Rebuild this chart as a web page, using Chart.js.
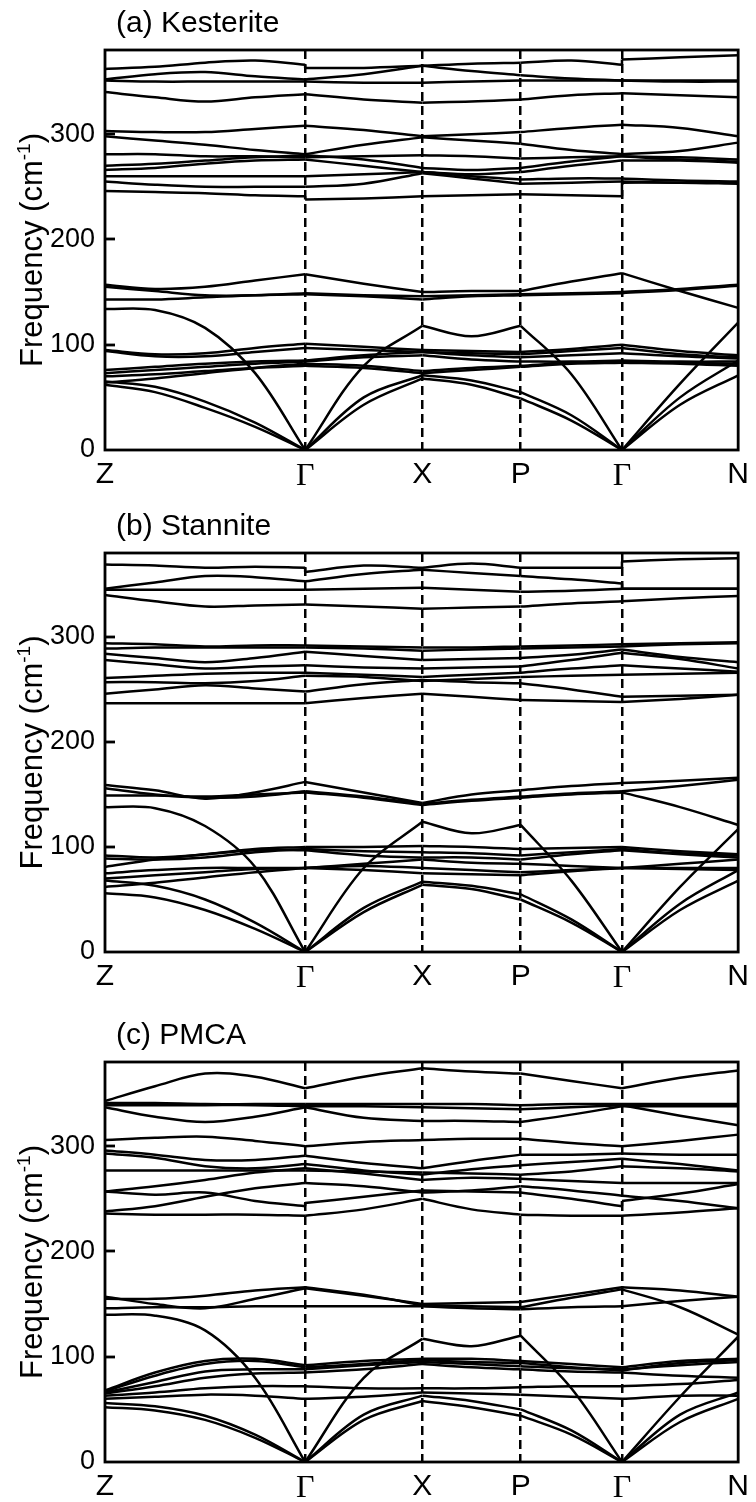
<!DOCTYPE html>
<html>
<head>
<meta charset="utf-8">
<script src="https://cdn.jsdelivr.net/npm/chart.js@4.4.1/dist/chart.umd.min.js"></script>
<style>
  html, body { margin: 0; padding: 0; background: #fff; }
  #wrap { position: relative; width: 756px; height: 1502px; overflow: hidden; }
  #wrap canvas { position: absolute; left: 0; }
</style>
</head>
<body>
<div id="wrap">
  <canvas id="cKes" width="756" height="500" style="top:0px"></canvas>
  <canvas id="cSta" width="756" height="500" style="top:503px"></canvas>
  <canvas id="cPmca" width="756" height="490" style="top:1012px"></canvas>
</div>
<script>
// High-symmetry path Z - Γ - X - P - Γ - N (cumulative path length, normalised)
const kLabels = ['Z', 'Γ', 'X', 'P', 'Γ', 'N'];
const kPathPos = [0, 0.3161, 0.5012, 0.6565, 0.8165, 1];
// fractional sample positions inside each path segment
const segSamples = [[0.25, 0.5, 0.75, 1], [0.5, 1], [0.5, 1], [0.5, 1], [0.5, 1]];
const freqTicks = [0, 100, 200, 300];

// Each band: 13 frequencies (cm^-1) at
// Z, ¼, ½, ¾, Γ, ½ΓX, X, ½XP, P, ½PΓ, Γ, ½ΓN, N.
// A pair [before, after] marks a band that splits at that point.

// (a) Kesterite
const kesHigh = [
  [362, 364, 368, 370, [366, 363], 363, 365, 367, 368, 370, [366, 371], 373, 375],
  [352, 357, 359, 355, 352, 357, 365, 360, 356, 353, 351, 351, 351],
  [351, 350, 350, 350, 350, 349, 349, 350, 351, 351, 351, 350, 350],
  [340, 335, 331, 335, 338, 333, 330, 331, 333, 337, 339, 337, 335]
];
const kesMid = [
  [303, 302, 302, 305, 308, 304, 298, 300, 302, 306, 309, 306, 298],
  [298, 294, 290, 285, 281, 290, 297, 294, 291, 285, 281, 284, 292],
  [281, 281, 279, 279, 278, 279, 280, 279, 277, 278, 279, 278, 276],
  [270, 272, 275, 278, 280, 276, 268, 266, 268, 274, 279, 276, 274],
  [266, 268, 272, 275, 276, 270, 264, 262, 264, 270, 275, 275, 273],
  [260, 260, 260, 260, 260, 262, 264, 260, 257, 258, 258, 256, 255],
  [255, 252, 250, 250, 250, 253, 263, 258, 253, 254, 255, 254, 254],
  [246, 245, 244, 242, [241, 238], 239, 241, 242, 243, 242, [241, 254], 254, 253]
];
const kesMidLow = [
  [157, 153, 155, 161, 167, 158, 150, 151, 151, 160, 168, 151, 135],
  [155, 151, 147, 147, 149, 147, 146, 147, 148, 149, 150, 153, 157],
  [143, 143, 145, 147, 148, 146, 143, 146, 147, 148, 149, 152, 156]
];
const kesLow = [
  [134, 133, 116, 73, 0, 80, 118, 108, 118, 72, 0, 63, 121],
  [62, 55, 40, 22, 0, 43, 68, 62, 49, 28, 0, 43, 71],
  [65, 60, 46, 26, 0, 50, 71, 66, 55, 33, 0, 50, 85],
  [70, 72, 75, 78, 80, 78, 73, 76, 79, 82, 83, 82, 80],
  [64, 68, 73, 78, 82, 80, 75, 78, 80, 83, 84, 83, 82],
  [73, 76, 79, 82, 84, 88, 90, 86, 84, 84, 85, 84, 84],
  [76, 79, 82, 84, 85, 90, 93, 90, 88, 90, 92, 89, 87],
  [94, 89, 89, 93, 97, 95, 93, 92, 91, 94, 97, 91, 88],
  [95, 91, 92, 97, 101, 98, 95, 94, 93, 96, 100, 94, 90]
];

// (b) Stannite
const staHigh = [
  [369, 368, 366, 367, [366, 362], 368, 366, 370, 366, 366, [366, 372], 374, 375],
  [346, 352, 358, 357, 353, 360, 364, 361, 358, 355, [351, 346], 346, 346],
  [345, 345, 345, 345, 345, 346, 347, 345, 343, 344, 346, 346, 346],
  [340, 334, 329, 330, 331, 329, 327, 328, 329, 332, 334, 337, 339]
];
const staMid = [
  [294, 293, 291, 292, 292, 291, 290, 290, 291, 292, 293, 294, 295],
  [289, 290, 290, 290, 290, 289, 287, 288, 289, 290, 291, 293, 294],
  [284, 280, 276, 280, 286, 282, 278, 279, 280, 283, 288, 281, 276],
  [278, 274, 270, 272, 273, 271, 270, 271, 272, 278, 285, 279, 270],
  [261, 263, 265, 266, 266, 264, 262, 264, 266, 270, 273, 270, 267],
  [257, 257, 256, 258, 263, 262, 258, 260, 262, 263, 264, 265, 266],
  [246, 250, 254, 251, 248, 255, 259, 257, 256, 250, 243, 244, 245],
  [237, 237, 237, 237, 237, 242, 246, 243, 240, 239, 238, 241, 245]
];
const staMidLow = [
  [159, 154, 146, 152, 162, 152, 142, 150, 154, 158, 161, 163, 166],
  [156, 150, 147, 148, 153, 148, 141, 145, 148, 151, 153, 158, 164],
  [149, 149, 148, 150, 152, 147, 140, 144, 147, 150, 152, 138, 121]
];
const staLow = [
  [138, 137, 120, 81, 0, 80, 124, 113, 121, 68, 0, 62, 117],
  [56, 52, 40, 22, 0, 38, 64, 60, 50, 28, 0, 40, 68],
  [68, 63, 50, 28, 0, 42, 67, 63, 55, 31, 0, 46, 78],
  [62, 66, 71, 76, 80, 78, 75, 74, 73, 77, 80, 79, 78],
  [70, 73, 76, 79, 80, 82, 80, 78, 76, 78, 80, 80, 80],
  [75, 78, 80, 80, 80, 84, 88, 85, 84, 82, 80, 84, 88],
  [81, 88, 93, 97, 97, 92, 90, 90, 88, 93, 97, 93, 90],
  [89, 88, 90, 95, 98, 96, 95, 94, 92, 95, 98, 94, 92],
  [92, 90, 93, 98, 100, 100, 101, 100, 98, 99, 100, 96, 93]
];

// (c) PMCA
const pmcHigh = [
  [343, 357, 369, 366, 355, 366, 374, 371, 369, 362, 355, 365, 372],
  [341, 341, 340, 340, 340, 340, 340, 340, 339, 340, 340, 340, 340],
  [339, 339, 339, 339, 338, 338, 337, 336, 335, 337, 339, 329, 320],
  [337, 328, 323, 328, 337, 327, 324, 324, 323, 330, 338, 338, 338]
];
const pmcMid = [
  [306, 308, 309, 305, 300, 304, 306, 307, 307, 303, 300, 305, 311],
  [296, 292, 287, 287, 291, 284, 279, 286, 292, 292, 293, 292, 292],
  [293, 289, 281, 279, 283, 277, 273, 278, 282, 285, 288, 283, 277],
  [277, 277, 277, 277, 277, 276, 275, 274, 273, 276, 281, 279, 276],
  [257, 262, 268, 275, 279, 274, 268, 270, 269, 267, 265, 265, 265],
  [257, 254, 256, 248, [243, 246], 252, 258, 257, 256, 250, [243, 248], 255, 264],
  [238, 243, 252, 260, 265, 262, 256, 258, 262, 258, 253, 248, 241],
  [236, 235, 235, 235, 234, 240, 250, 240, 235, 234, 234, 237, 241]
];
const pmcMidLow = [
  [157, 150, 146, 155, 165, 158, 150, 151, 152, 159, 166, 163, 157],
  [155, 155, 158, 163, 166, 159, 149, 148, 147, 156, 164, 147, 121],
  [146, 147, 147, 148, 148, 148, 148, 146, 145, 147, 148, 153, 157]
];
const pmcLow = [
  [140, 139, 125, 80, 0, 80, 117, 110, 120, 70, 0, 62, 119],
  [52, 49, 40, 23, 0, 40, 58, 52, 44, 26, 0, 38, 60],
  [56, 53, 44, 26, 0, 45, 63, 58, 50, 30, 0, 45, 66],
  [60, 62, 64, 63, 60, 62, 66, 65, 64, 62, 60, 63, 63],
  [63, 66, 70, 72, 72, 70, 70, 70, 71, 72, 72, 74, 78],
  [65, 72, 80, 84, 85, 88, 93, 90, 88, 86, 85, 82, 80],
  [66, 76, 86, 88, 88, 92, 95, 93, 91, 89, 88, 92, 95],
  [67, 82, 93, 96, 90, 93, 97, 95, 94, 90, 87, 94, 97],
  [68, 85, 96, 98, 92, 96, 98, 98, 96, 93, 90, 96, 98]
];

// ---- path sampling -------------------------------------------------------
const sampleX = [kPathPos[0]];
const segEnds = [0];
segSamples.forEach((fracs, s) => {
  const a = kPathPos[s], b = kPathPos[s + 1];
  fracs.forEach(f => sampleX.push(a + (b - a) * f));
  segEnds.push(sampleX.length - 1);
});

function lineSet(points, tension) {
  return {
    data: points,
    showLine: true,
    borderColor: '#000',
    borderWidth: 2.5,
    pointRadius: 0,
    tension: tension,
    fill: false
  };
}

// each band is drawn segment by segment so that it may kink at the
// high-symmetry points; splits get a short vertical connector
function bandDatasets(groups) {
  const out = [];
  groups.forEach(bands => bands.forEach(freqs => {
    for (let s = 0; s < segEnds.length - 1; s++) {
      const pts = [];
      for (let i = segEnds[s]; i <= segEnds[s + 1]; i++) {
        const f = freqs[i];
        const y = Array.isArray(f) ? (i === segEnds[s] ? f[1] : f[0]) : f;
        pts.push({ x: sampleX[i], y: y });
      }
      out.push(lineSet(pts, 0.35));
    }
    freqs.forEach((f, i) => {
      if (Array.isArray(f)) {
        out.push(lineSet([{ x: sampleX[i], y: f[0] }, { x: sampleX[i], y: f[1] }], 0));
      }
    });
  }));
  return out;
}

// frame, inner ticks, panel title and y-axis title
const framePlugin = {
  id: 'frame',
  afterDatasetsDraw(chart, args, opts) {
    const { ctx, chartArea: a } = chart;
    const y = chart.scales.y;
    ctx.save();
    ctx.strokeStyle = '#000';
    ctx.lineWidth = 2.8;
    ctx.strokeRect(a.left, a.top, a.right - a.left, a.bottom - a.top);
    freqTicks.forEach(v => {
      if (v > y.min && v < y.max) {
        const py = Math.round(y.getPixelForValue(v));
        ctx.beginPath();
        ctx.moveTo(a.left, py);
        ctx.lineTo(a.left + 10, py);
        ctx.stroke();
      }
    });
    ctx.fillStyle = '#000';
    ctx.textBaseline = 'alphabetic';
    ctx.textAlign = 'left';
    ctx.font = '30px "Liberation Sans", Arial, sans-serif';
    ctx.fillText(opts.title, 116, a.top - 18);

    // rotated axis title with superscript
    const main = 'Frequency (cm', sup = '-1', close = ')';
    const bigFont = '31px "Liberation Sans", Arial, sans-serif';
    const supFont = '19px "Liberation Sans", Arial, sans-serif';
    ctx.font = bigFont;
    const w1 = ctx.measureText(main).width;
    const w3 = ctx.measureText(close).width;
    ctx.font = supFont;
    const w2 = ctx.measureText(sup).width;
    const total = w1 + w2 + w3;
    ctx.translate(42, (a.top + a.bottom) / 2);
    ctx.rotate(-Math.PI / 2);
    const x0 = -total / 2;
    ctx.font = bigFont;
    ctx.fillText(main, x0, 0);
    ctx.font = supFont;
    ctx.fillText(sup, x0 + w1, -12);
    ctx.font = bigFont;
    ctx.fillText(close, x0 + w1 + w2, 0);
    ctx.restore();
  }
};

function makePanel(canvasId, title, groups, axisHeight) {
  new Chart(document.getElementById(canvasId), {
    type: 'scatter',
    data: { datasets: bandDatasets(groups) },
    options: {
      responsive: false,
      animation: false,
      devicePixelRatio: 1,
      events: [],
      layout: { padding: { top: 50, right: 13, left: 0, bottom: 0 } },
      plugins: {
        legend: { display: false },
        tooltip: { enabled: false },
        frame: { title: title }
      },
      scales: {
        x: {
          type: 'linear',
          min: 0,
          max: 1,
          afterBuildTicks: sc => { sc.ticks = kPathPos.map(v => ({ value: v })); },
          afterFit: sc => { sc.height = axisHeight; },
          ticks: {
            autoSkip: false,
            maxRotation: 0,
            padding: 7,
            color: '#000',
            callback: (v, i) => kLabels[i],
            font: c => kLabels[c.index] === 'Γ'
              ? { family: '"Liberation Serif", "Times New Roman", serif', size: 32 }
              : { family: '"Liberation Sans", Arial, sans-serif', size: 30 }
          },
          grid: {
            drawTicks: false,
            lineWidth: 2.5,
            color: c => (c.index === 0 || c.index === kPathPos.length - 1) ? 'rgba(0,0,0,0)' : '#000'
          },
          border: { display: false, dash: [9, 5] }
        },
        y: {
          type: 'linear',
          min: 0,
          max: 380,
          afterBuildTicks: sc => { sc.ticks = freqTicks.map(v => ({ value: v })); },
          afterFit: sc => { sc.width = 105; },
          ticks: {
            padding: 10,
            color: '#000',
            font: { family: '"Liberation Sans", Arial, sans-serif', size: 27 }
          },
          grid: { display: false, drawTicks: false },
          border: { display: false }
        }
      }
    },
    plugins: [framePlugin]
  });
}

makePanel('cKes', '(a) Kesterite', [kesHigh, kesMid, kesMidLow, kesLow], 50);
makePanel('cSta', '(b) Stannite', [staHigh, staMid, staMidLow, staLow], 51);
makePanel('cPmca', '(c) PMCA', [pmcHigh, pmcMid, pmcMidLow, pmcLow], 40);
</script>
</body>
</html>
